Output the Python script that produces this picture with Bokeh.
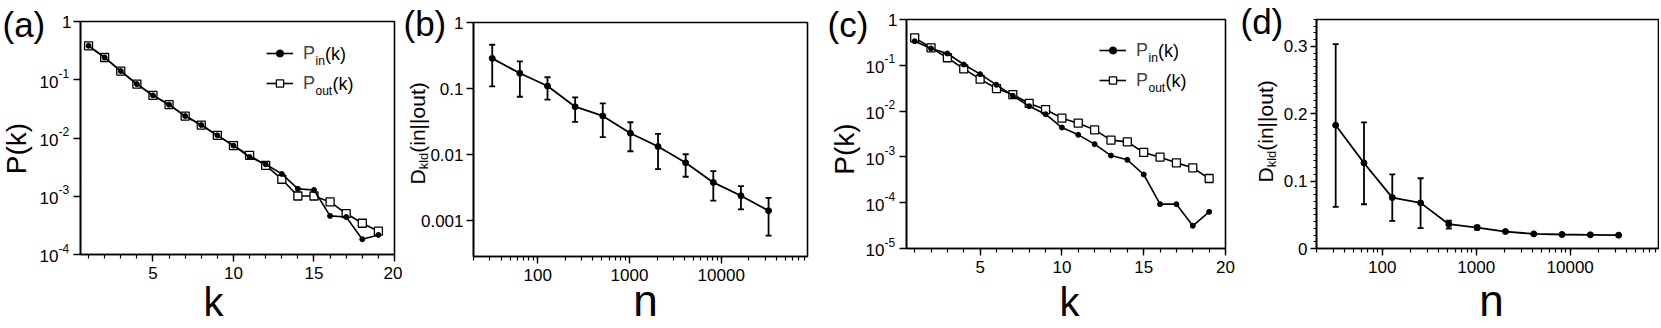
import math
from bokeh.plotting import figure
from bokeh.layouts import row
from bokeh.models import (Range1d, FixedTicker, LogTicker, SingleIntervalTicker,
                          CustomJSTickFormatter, Label, Legend, LegendItem, Whisker,
                          ColumnDataSource, TeeHead, BoxAnnotation)
from bokeh.embed import file_html
from bokeh.resources import INLINE

FONT = "Liberation Sans"
H = 326
MID = 0.3465          # distance (em) from the alphabetic baseline up to the em-box middle

# ---------------- data ----------------
k_vals = list(range(1, 20))
a_p_in = [0.383, 0.241, 0.141, 0.0843, 0.0539, 0.0373, 0.0238, 0.0167, 0.0111, 0.0074,
          0.00472, 0.00354, 0.00242, 0.00134, 0.00128, 0.00046, 0.00044, 0.000183, 0.000217]
a_p_out = [0.383, 0.241, 0.141, 0.0843, 0.0539, 0.0373, 0.0238, 0.0167, 0.0111, 0.0074,
           0.00504, 0.0034, 0.00196, 0.00101, 0.00101, 0.0008, 0.000505, 0.000344, 0.000251]

n_vals = [32, 64, 128, 256, 512, 1024, 2048, 4096, 8192, 16384, 32768]
b_dkl = [0.286, 0.17, 0.109, 0.053, 0.0384, 0.021, 0.0132, 0.0075, 0.00378, 0.00237, 0.00141]
b_hi = [0.46, 0.257, 0.148, 0.0735, 0.0597, 0.0308, 0.0205, 0.0101, 0.0056, 0.00332, 0.00221]
b_lo = [0.108, 0.075, 0.068, 0.0312, 0.0183, 0.0112, 0.006, 0.0046, 0.002, 0.00148, 0.00059]

c_p_in = [0.336, 0.233, 0.181, 0.104, 0.064, 0.0375, 0.0216, 0.0128, 0.00857, 0.00438,
          0.00303, 0.0019, 0.00107, 0.000863, 0.000413, 0.0000929, 0.0000929, 0.0000313, 0.0000631]
c_p_out = [0.398, 0.241, 0.146, 0.0838, 0.0498, 0.0311, 0.023, 0.0147, 0.0108, 0.00701,
           0.00545, 0.0039, 0.00232, 0.00213, 0.00125, 0.000986, 0.000741, 0.000577, 0.000338]

d_dkl = [0.183, 0.127, 0.0756, 0.0677, 0.0361, 0.0311, 0.0252, 0.0217, 0.0208, 0.0203, 0.0198]
d_hi = [0.3035, 0.1874, 0.110, 0.1043, 0.0415, 0.034, 0.0265, 0.0225, 0.0214, 0.0208, 0.0203]
d_lo = [0.0618, 0.0657, 0.041, 0.0302, 0.0297, 0.028, 0.0239, 0.0209, 0.0202, 0.0198, 0.0193]

a_yticks = [1, 0.1, 0.01, 0.001, 0.0001]
a_yexp = ["", "-1", "-2", "-3", "-4"]
c_yticks = [1, 0.1, 0.01, 0.001, 0.0001, 0.00001]
c_yexp = ["", "-1", "-2", "-3", "-4", "-5"]
b_yticks = [0.001, 0.01, 0.1, 1]
d_yticks_interval = 0.1

panel_letters = ["(a)", "(b)", "(c)", "(d)"]
legend_in = ("P", "in", "(k)")
legend_out = ("P", "out", "(k)")
dkl_parts = ("D", "kld", "(in||out)")


def ext_range(lo, hi, off_lo, span, off_hi, log):
    a, b = (math.log10(lo), math.log10(hi)) if log else (lo, hi)
    s = (b - a) / span
    A, B = a - off_lo * s, b + off_hi * s
    return (10 ** A, 10 ** B) if log else (A, B)


class Panel:
    """A figure whose frame fills the canvas; the visible plot box sits inside it."""

    def __init__(self, fig_left, width, box_left_page, box_right_page, box_top, box_bottom,
                 xlim, ylim, xlog, ylog):
        self.ox = fig_left
        self.Lp = box_left_page - fig_left
        box_w = box_right_page - box_left_page
        box_h = box_bottom - box_top
        self.Bp = H - box_bottom
        xs, xe = ext_range(xlim[0], xlim[1], self.Lp, box_w, width - self.Lp - box_w, xlog)
        ys, ye = ext_range(ylim[0], ylim[1], self.Bp, box_h, box_top, ylog)
        p = figure(width=width, height=H, x_range=Range1d(xs, xe), y_range=Range1d(ys, ye),
                   x_axis_type="log" if xlog else "linear",
                   y_axis_type="log" if ylog else "linear",
                   output_backend="svg", toolbar_location=None,
                   min_border_left=0, min_border_right=0, min_border_top=0,
                   min_border_bottom=0)
        p.xgrid.visible = False
        p.ygrid.visible = False
        p.outline_line_color = None
        p.background_fill_color = "white"
        p.border_fill_color = "white"
        xa, ya = p.xaxis[0], p.yaxis[0]
        xa.fixed_location = ylim[0]
        xa.bounds = (xlim[0], xlim[1])
        ya.fixed_location = xlim[0]
        ya.bounds = (ylim[0], ylim[1])
        for ax in (xa, ya):
            ax.axis_line_color = "black"
            ax.axis_line_width = 1.6
            ax.major_tick_line_color = "black"
            ax.major_tick_line_width = 1.4
            ax.minor_tick_line_color = "black"
            ax.minor_tick_line_width = 1.2
            ax.major_tick_in = 0
            ax.major_tick_out = 7
            ax.minor_tick_in = 0
            ax.minor_tick_out = 4
            ax.major_label_text_font = FONT
            ax.major_label_text_font_size = "17px"
            ax.major_label_text_color = "black"
        xa.major_label_standoff = 5
        ya.major_label_standoff = 3
        p.add_layout(BoxAnnotation(left=xlim[0], right=xlim[1], bottom=ylim[0], top=ylim[1],
                                   fill_alpha=0, line_color="black", line_width=1.6,
                                   line_alpha=1.0))
        self.p = p

    def _label(self, x, y, yu, text, size, **kw):
        kw.setdefault("text_baseline", "middle")
        self.p.add_layout(Label(x=x, y=y, x_units="screen", y_units=yu, text=text,
                                text_font=FONT, text_font_size=f"{size}px",
                                text_color="black", **kw))

    def rtxt(self, xr, yr, text, size, **kw):
        """Text whose em-box middle sits at page point (xr, yr), y measured from the top."""
        self._label(xr - self.ox, H - yr, "screen", text, size, **kw)

    def btxt(self, dx, dy, text, size, **kw):
        """Text placed relative to the plot box: dx from its left, dy up from its bottom."""
        self._label(self.Lp + dx, self.Bp + dy, "screen", text, size, **kw)

    def dtxt(self, dx, yv, text, size, **kw):
        """Text at a data y value, dx px from the box's left edge."""
        self._label(self.Lp + dx, yv, "data", text, size, **kw)


def pow_labels(P, ticks, exps):
    for v, e in zip(ticks, exps):
        if e == "":
            P.dtxt(-9, v, "1", 17, text_align="right")
        else:
            P.dtxt(-22, v, "10", 17, text_align="right", y_offset=-1.8)
            P.dtxt(-22, v, e, 12, text_align="left", y_offset=6.5)


def rotated_dkl(P, x_base, y_start, big=21, small=13):
    d, sub, rest = dkl_parts
    ang = math.pi / 2
    P.rtxt(x_base - MID * big, y_start, d, big, angle=ang, text_align="left")
    w_d = 0.722 * big
    P.rtxt(x_base + 4 - MID * small, y_start - w_d, sub, small, angle=ang, text_align="left")
    w_sub = 1.278 * small
    P.rtxt(x_base - MID * big, y_start - w_d - w_sub, rest, big, angle=ang,
           text_align="left")


def letter(P, x_left, base, text, size=35):
    P.rtxt(x_left, base - MID * size, text, size, text_align="left")


def bottom_title(P, x_center, base, text, size):
    P.rtxt(x_center, base - MID * size, text, size, text_align="center")


def kdist_panel(fig_left, width, box, y_min, p_in, p_out, ticks, exps, leg_xy):
    P = Panel(fig_left, width, *box, (0.5, 20), (y_min, 1), False, True)
    p = P.p
    p.xaxis[0].ticker = SingleIntervalTicker(interval=5, num_minor_ticks=5)
    p.yaxis[0].ticker = FixedTicker(ticks=ticks)
    p.yaxis[0].formatter = CustomJSTickFormatter(code="return ''")
    p.yaxis[0].minor_tick_line_color = None

    src = ColumnDataSource(dict(k=k_vals, pin=p_in, pout=p_out))
    l_out = p.line("k", "pout", source=src, line_color="black", line_width=1.6)
    s_out = p.scatter("k", "pout", source=src, marker="square", size=8, line_color="black",
                      fill_color="white", line_width=1.3)
    l_in = p.line("k", "pin", source=src, line_color="black", line_width=1.6)
    s_in = p.scatter("k", "pin", source=src, marker="circle", size=5, line_color="black",
                     fill_color="black")

    vx, vy = leg_xy
    leg = Legend(items=[LegendItem(label=legend_in[0], renderers=[l_in, s_in]),
                        LegendItem(label=legend_out[0], renderers=[l_out, s_out])],
                 location=(P.Lp + vx, P.Bp + vy), padding=0, margin=0, spacing=3,
                 glyph_width=27, glyph_height=18, label_height=27, label_standoff=10,
                 label_text_font=FONT, label_text_font_size="18px",
                 border_line_color=None, background_fill_alpha=0)
    p.add_layout(leg)
    r1 = vy + 43.5
    r2 = vy + 13.5
    P.btxt(vx + 49, r1 - 7, legend_in[1], 12)
    P.btxt(vx + 58.5, r1, legend_in[2], 18)
    P.btxt(vx + 49, r2 - 7, legend_out[1], 12)
    P.btxt(vx + 66, r2, legend_out[2], 18)

    pow_labels(P, ticks, exps)
    return P


def dkl_panel(fig_left, width, box, ylim, ylog, vals, lo, hi):
    P = Panel(fig_left, width, *box, (20, 87000), ylim, True, ylog)
    p = P.p
    p.xaxis[0].ticker = LogTicker(num_minor_ticks=10)
    p.xaxis[0].formatter = CustomJSTickFormatter(code="return tick.toString()")
    src = ColumnDataSource(dict(n=n_vals, v=vals, lo=lo, hi=hi))
    p.add_layout(Whisker(base="n", lower="lo", upper="hi", source=src, line_color="black",
                         line_width=1.8,
                         upper_head=TeeHead(size=6, line_color="black", line_width=1.8),
                         lower_head=TeeHead(size=6, line_color="black", line_width=1.8)))
    p.line("n", "v", source=src, line_color="black", line_width=1.8)
    p.scatter("n", "v", source=src, marker="circle", size=6, line_color="black",
              fill_color="black")
    return P


# panel (a): figure 0..402, box 80..394 x 21..254
Pa = kdist_panel(0, 402, (80, 394, 21, 254), 0.0001, a_p_in, a_p_out, a_yticks, a_yexp,
                 (186, 157.5))
letter(Pa, 2, 36, panel_letters[0])
Pa.rtxt(16, 148, "P(k)", 28, angle=math.pi / 2, text_align="center")
bottom_title(Pa, 213, 315, "k", 40)

# panel (b): figure 402..826, box 473..807 x 22..256
Pb = dkl_panel(402, 424, (473, 807, 22, 256), (0.000285, 1), True, b_dkl, b_lo, b_hi)
Pb.p.yaxis[0].ticker = FixedTicker(ticks=b_yticks)
Pb.p.yaxis[0].formatter = CustomJSTickFormatter(code="return tick.toString()")
Pb.p.yaxis[0].minor_tick_line_color = None
letter(Pb, 403, 35, panel_letters[1])
rotated_dkl(Pb, 424, 184)
bottom_title(Pb, 645, 315, "n", 44)

# panel (c): figure 826..1238, box 906..1225 x 19..248
Pc = kdist_panel(826, 412, (906, 1225, 19, 248), 0.00001, c_p_in, c_p_out, c_yticks, c_yexp,
                 (193, 154.5))
letter(Pc, 827, 36, panel_letters[2])
Pc.rtxt(844, 148.5, "P(k)", 28, angle=math.pi / 2, text_align="center")
bottom_title(Pc, 1069, 315, "k", 40)

# panel (d): figure 1238..1659, box 1316..1658 x 19..248
Pd = dkl_panel(1238, 421, (1316, 1658, 19, 248), (0, 0.34), False, d_dkl, d_lo, d_hi)
Pd.p.yaxis[0].ticker = SingleIntervalTicker(interval=d_yticks_interval, num_minor_ticks=10)
Pd.p.yaxis[0].formatter = CustomJSTickFormatter(code="return String(Math.round(tick*10)/10)")
Pd.p.yaxis[0].major_tick_out = 6
Pd.p.yaxis[0].minor_tick_out = 3
letter(Pd, 1240, 33, panel_letters[3])
rotated_dkl(Pd, 1272, 182)
bottom_title(Pd, 1491, 315, "n", 44)

layout = row(Pa.p, Pb.p, Pc.p, Pd.p, spacing=0)
open("out.html", "w").write(file_html(layout, INLINE))
